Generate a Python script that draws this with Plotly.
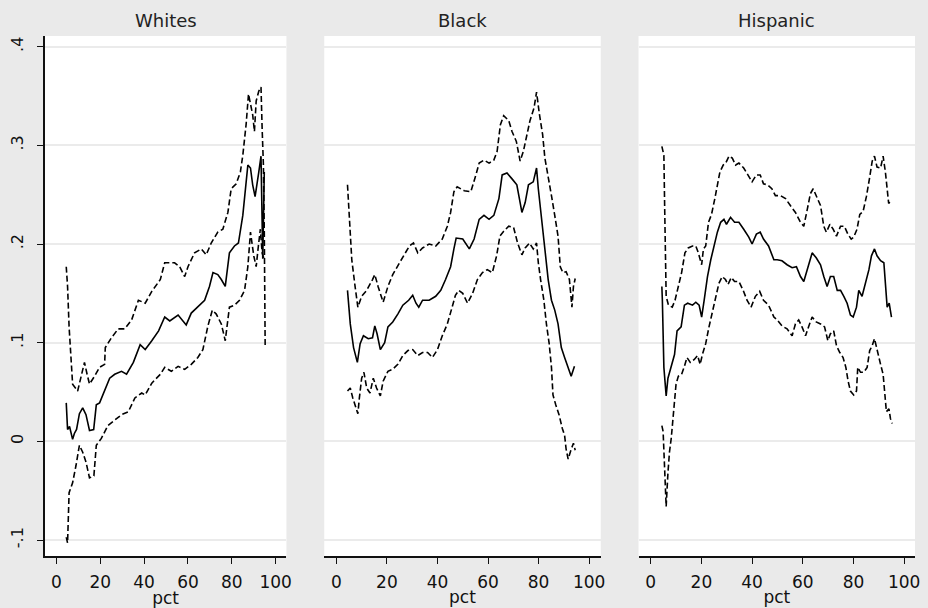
import plotly.graph_objects as go

# ---------------- data ----------------
xticks = [0, 20, 40, 60, 80, 100]
yticks = [-0.1, 0, 0.1, 0.2, 0.3, 0.4]
ytick_labels = ["-.1", "0", ".1", ".2", ".3", ".4"]
panel_titles = ["Whites", "Black", "Hispanic"]

# Whites
w_est_x = [4.5, 5.1, 6.0, 7.4, 8.2, 9.2, 10.5, 12.0, 13.5, 15.1, 17.0, 18.2, 19.7, 22.0, 24.3, 26.6, 29.7, 32.0, 35.1, 38.2, 40.5, 43.5, 46.6, 49.4, 51.7, 55.5, 59.2, 61.5, 64.5, 67.6, 69.8, 71.4, 73.6, 75.2, 77.0, 78.9, 81.2, 83.0, 85.0, 87.3, 88.5, 89.5, 90.6, 91.5, 92.3, 93.3, 94.1, 94.8]
w_est = [0.039, 0.012, 0.015, 0.002, 0.008, 0.012, 0.028, 0.034, 0.027, 0.011, 0.012, 0.037, 0.039, 0.051, 0.064, 0.068, 0.071, 0.068, 0.080, 0.098, 0.093, 0.102, 0.112, 0.126, 0.122, 0.128, 0.118, 0.130, 0.136, 0.143, 0.157, 0.171, 0.169, 0.164, 0.157, 0.191, 0.198, 0.201, 0.229, 0.280, 0.277, 0.260, 0.248, 0.260, 0.273, 0.289, 0.185, 0.273]
w_up_x = [4.5, 5.1, 5.8, 6.6, 7.4, 9.7, 11.2, 12.8, 14.0, 15.1, 17.4, 19.7, 22.0, 22.3, 25.1, 28.2, 31.2, 34.3, 37.4, 40.5, 43.5, 47.4, 49.4, 53.9, 56.2, 58.5, 60.0, 63.0, 66.1, 68.3, 70.6, 73.6, 75.9, 78.2, 79.7, 82.0, 83.9, 85.0, 86.5, 87.6, 88.5, 89.5, 90.3, 91.1, 92.3, 93.3, 93.8, 94.4, 94.8, 95.2]
w_up = [0.177, 0.157, 0.116, 0.082, 0.058, 0.051, 0.064, 0.080, 0.068, 0.058, 0.066, 0.075, 0.078, 0.095, 0.105, 0.114, 0.114, 0.123, 0.143, 0.140, 0.152, 0.164, 0.181, 0.181, 0.177, 0.167, 0.177, 0.191, 0.195, 0.189, 0.201, 0.212, 0.215, 0.232, 0.256, 0.261, 0.273, 0.290, 0.321, 0.352, 0.342, 0.331, 0.314, 0.345, 0.355, 0.359, 0.318, 0.280, 0.212, 0.095]
w_lo_x = [4.5, 5.1, 5.8, 7.4, 8.9, 10.5, 12.0, 13.5, 15.1, 17.1, 18.2, 20.5, 23.5, 26.6, 29.7, 32.8, 35.8, 38.9, 40.5, 43.5, 47.4, 49.4, 52.4, 55.5, 58.5, 61.5, 64.5, 66.8, 69.1, 71.1, 72.9, 75.2, 77.0, 78.9, 81.2, 83.5, 85.8, 87.3, 88.5, 90.0, 91.1, 92.1, 93.0, 93.8, 94.8]
w_lo = [-0.097, -0.103, -0.052, -0.042, -0.025, -0.004, -0.011, -0.021, -0.037, -0.035, -0.004, 0.003, 0.016, 0.022, 0.027, 0.030, 0.044, 0.049, 0.047, 0.059, 0.068, 0.075, 0.071, 0.076, 0.073, 0.078, 0.085, 0.093, 0.117, 0.133, 0.129, 0.119, 0.102, 0.136, 0.138, 0.143, 0.153, 0.177, 0.212, 0.188, 0.177, 0.198, 0.215, 0.191, 0.184]

# Black
b_est_x = [4.4, 5.5, 6.8, 8.3, 9.4, 10.7, 12.6, 14.3, 15.2, 16.1, 17.4, 19.1, 20.4, 22.3, 24.3, 26.3, 28.6, 30.2, 31.5, 32.6, 34.1, 36.7, 39.3, 41.3, 43.2, 45.2, 46.5, 47.4, 50.0, 52.6, 54.5, 56.5, 58.4, 60.4, 62.3, 64.3, 65.6, 67.5, 69.5, 71.4, 72.7, 73.4, 74.7, 76.0, 77.9, 79.2, 79.9, 81.2, 82.5, 83.8, 85.1, 86.4, 87.7, 89.0, 90.3, 91.6, 92.9, 94.2]
b_est = [0.153, 0.119, 0.095, 0.080, 0.099, 0.107, 0.104, 0.105, 0.117, 0.109, 0.093, 0.100, 0.116, 0.121, 0.129, 0.138, 0.143, 0.148, 0.140, 0.136, 0.143, 0.143, 0.147, 0.153, 0.164, 0.177, 0.195, 0.206, 0.205, 0.195, 0.205, 0.225, 0.229, 0.225, 0.229, 0.246, 0.270, 0.272, 0.266, 0.260, 0.242, 0.232, 0.242, 0.260, 0.263, 0.277, 0.256, 0.225, 0.191, 0.164, 0.143, 0.133, 0.119, 0.095, 0.085, 0.075, 0.066, 0.076]
b_up_x = [4.4, 4.8, 5.5, 6.1, 7.4, 8.5, 10.0, 12.0, 14.3, 15.2, 16.5, 18.5, 20.4, 22.3, 25.0, 27.0, 28.9, 30.5, 32.2, 34.1, 36.7, 39.3, 41.9, 43.9, 45.2, 46.5, 47.8, 50.6, 53.2, 55.2, 56.5, 58.4, 60.4, 62.3, 63.6, 64.9, 66.2, 68.2, 69.5, 71.2, 72.7, 74.0, 75.3, 76.6, 78.2, 79.2, 80.3, 81.6, 82.5, 83.8, 85.1, 86.4, 87.7, 88.6, 89.6, 90.9, 92.2, 93.2, 93.8, 94.5]
b_up = [0.260, 0.239, 0.212, 0.184, 0.157, 0.136, 0.147, 0.153, 0.164, 0.169, 0.157, 0.141, 0.157, 0.169, 0.181, 0.189, 0.198, 0.201, 0.191, 0.196, 0.200, 0.198, 0.205, 0.218, 0.232, 0.253, 0.258, 0.254, 0.253, 0.270, 0.282, 0.285, 0.282, 0.285, 0.294, 0.321, 0.330, 0.325, 0.314, 0.304, 0.284, 0.294, 0.311, 0.325, 0.338, 0.354, 0.332, 0.311, 0.287, 0.266, 0.249, 0.229, 0.208, 0.177, 0.171, 0.172, 0.164, 0.136, 0.157, 0.165]
b_lo_x = [4.4, 5.5, 6.5, 7.4, 8.5, 9.1, 10.0, 10.9, 12.0, 13.3, 14.6, 15.9, 17.4, 18.5, 20.4, 22.3, 24.3, 26.3, 28.3, 30.2, 32.2, 34.1, 36.1, 38.0, 40.0, 41.9, 43.9, 45.8, 47.1, 48.4, 50.0, 51.9, 53.9, 55.8, 57.8, 59.7, 61.7, 63.4, 64.7, 66.2, 68.2, 70.1, 71.7, 73.4, 74.7, 76.4, 77.9, 79.2, 79.9, 80.8, 82.1, 83.1, 84.2, 85.1, 85.7, 86.8, 88.1, 89.4, 90.3, 90.9, 91.7, 92.9, 93.8, 94.5]
b_lo = [0.051, 0.054, 0.044, 0.037, 0.028, 0.044, 0.064, 0.070, 0.054, 0.049, 0.064, 0.054, 0.046, 0.061, 0.071, 0.073, 0.078, 0.087, 0.092, 0.093, 0.087, 0.090, 0.090, 0.085, 0.093, 0.107, 0.119, 0.136, 0.148, 0.153, 0.150, 0.140, 0.150, 0.164, 0.171, 0.174, 0.171, 0.188, 0.208, 0.213, 0.218, 0.217, 0.201, 0.189, 0.196, 0.201, 0.195, 0.201, 0.181, 0.164, 0.143, 0.119, 0.099, 0.075, 0.047, 0.037, 0.027, 0.013, 0.006, -0.008, -0.018, -0.008, -0.002, -0.009]

# Hispanic
h_est_x = [4.4, 4.6, 5.2, 6.1, 6.8, 8.1, 9.4, 10.4, 12.0, 13.3, 14.6, 16.5, 17.8, 19.1, 20.1, 21.1, 22.4, 23.7, 25.0, 26.3, 27.6, 28.9, 29.9, 31.5, 33.1, 34.8, 36.7, 38.7, 40.0, 41.7, 43.2, 44.5, 46.5, 48.6, 49.9, 51.8, 53.8, 55.8, 57.5, 59.1, 60.4, 62.0, 63.7, 65.3, 67.0, 68.3, 69.6, 70.9, 72.2, 73.6, 74.9, 76.2, 77.5, 78.8, 79.9, 81.2, 82.1, 83.4, 84.7, 86.1, 87.1, 88.3, 89.3, 90.7, 92.0, 92.6, 93.3, 94.1, 95.0]
h_est = [0.157, 0.143, 0.075, 0.046, 0.064, 0.075, 0.088, 0.112, 0.116, 0.138, 0.140, 0.138, 0.141, 0.138, 0.126, 0.143, 0.167, 0.184, 0.198, 0.212, 0.222, 0.225, 0.220, 0.227, 0.222, 0.222, 0.215, 0.207, 0.200, 0.210, 0.212, 0.205, 0.198, 0.184, 0.184, 0.183, 0.179, 0.176, 0.177, 0.167, 0.162, 0.177, 0.191, 0.186, 0.179, 0.167, 0.157, 0.167, 0.167, 0.153, 0.153, 0.147, 0.140, 0.128, 0.126, 0.136, 0.153, 0.147, 0.160, 0.174, 0.188, 0.195, 0.188, 0.183, 0.181, 0.164, 0.136, 0.140, 0.126]
h_up_x = [4.4, 5.2, 5.5, 5.7, 6.1, 7.0, 8.5, 9.6, 10.9, 12.2, 13.5, 14.8, 16.5, 17.8, 18.8, 20.1, 20.8, 21.7, 22.8, 24.0, 25.3, 26.3, 27.3, 28.6, 29.6, 30.9, 32.2, 33.5, 34.8, 36.7, 38.7, 40.0, 41.7, 43.2, 44.5, 46.1, 47.8, 49.2, 51.2, 53.2, 55.1, 57.1, 59.1, 60.4, 61.7, 63.0, 64.1, 65.7, 67.0, 68.3, 69.3, 70.7, 72.0, 73.3, 74.9, 76.4, 77.8, 79.1, 80.1, 81.4, 82.5, 83.8, 85.1, 86.3, 87.4, 88.3, 89.3, 90.7, 91.7, 92.6, 93.3, 93.9, 94.6]
h_up = [0.299, 0.290, 0.239, 0.191, 0.147, 0.138, 0.136, 0.143, 0.157, 0.171, 0.191, 0.196, 0.198, 0.198, 0.191, 0.179, 0.195, 0.198, 0.222, 0.230, 0.246, 0.261, 0.273, 0.280, 0.282, 0.289, 0.287, 0.280, 0.282, 0.277, 0.268, 0.263, 0.270, 0.270, 0.261, 0.260, 0.256, 0.249, 0.249, 0.246, 0.239, 0.232, 0.222, 0.218, 0.234, 0.251, 0.256, 0.246, 0.239, 0.218, 0.212, 0.220, 0.215, 0.208, 0.218, 0.218, 0.210, 0.205, 0.207, 0.215, 0.230, 0.233, 0.248, 0.266, 0.284, 0.289, 0.278, 0.277, 0.289, 0.273, 0.256, 0.241, 0.244]
h_lo_x = [4.4, 4.9, 5.5, 5.7, 6.1, 6.8, 7.4, 8.1, 8.7, 9.4, 10.0, 10.9, 12.2, 13.3, 14.3, 15.6, 17.2, 18.5, 19.5, 20.4, 21.7, 23.0, 24.3, 25.6, 26.9, 28.2, 29.5, 30.5, 31.8, 33.1, 34.8, 36.5, 38.0, 39.6, 41.3, 43.0, 44.5, 46.5, 48.6, 49.9, 51.8, 53.8, 55.8, 57.1, 58.4, 59.7, 61.1, 62.4, 63.7, 65.3, 67.0, 68.6, 69.9, 70.9, 72.2, 73.3, 74.6, 75.9, 77.0, 77.9, 78.8, 80.1, 81.2, 81.7, 82.8, 84.1, 85.4, 86.4, 87.4, 88.3, 89.3, 90.7, 91.7, 92.4, 93.0, 94.0, 94.6, 95.3]
h_lo = [0.016, 0.010, -0.028, -0.049, -0.066, -0.032, -0.011, 0.003, 0.023, 0.040, 0.058, 0.066, 0.068, 0.076, 0.085, 0.080, 0.083, 0.087, 0.078, 0.088, 0.099, 0.116, 0.131, 0.147, 0.160, 0.167, 0.164, 0.159, 0.166, 0.162, 0.162, 0.153, 0.143, 0.136, 0.147, 0.152, 0.143, 0.138, 0.126, 0.123, 0.117, 0.114, 0.107, 0.119, 0.123, 0.116, 0.107, 0.117, 0.126, 0.121, 0.119, 0.116, 0.102, 0.109, 0.112, 0.097, 0.090, 0.085, 0.075, 0.061, 0.051, 0.047, 0.051, 0.075, 0.070, 0.070, 0.075, 0.092, 0.097, 0.104, 0.092, 0.078, 0.068, 0.047, 0.030, 0.033, 0.023, 0.018]

panels = [
    (w_est_x, w_est, w_up_x, w_up, w_lo_x, w_lo),
    (b_est_x, b_est, b_up_x, b_up, b_lo_x, b_lo),
    (h_est_x, h_est, h_up_x, h_up, h_lo_x, h_lo),
]

# ---------------- figure ----------------
W, H = 928, 608
FONT = "DejaVu Sans"
LW = 1.6
DASH = "6px,3px"

fig = go.Figure()
for i, (ex, ey, ux, uy, lx, ly) in enumerate(panels):
    ax = "" if i == 0 else str(i + 1)
    for xs, ys, dash in ((ux, uy, DASH), (lx, ly, DASH), (ex, ey, "solid")):
        fig.add_trace(go.Scatter(
            x=xs, y=ys, mode="lines", xaxis="x" + ax, yaxis="y" + ax,
            line=dict(color="black", width=LW, dash=dash),
            showlegend=False, hoverinfo="skip"))

# plot areas in pixels
x_dom_px = [(45, 288), (326, 604), (642, 920)]
x_ranges = [[-5.3, 104.9], [-4.8, 104.6], [-4.8, 104.3]]
y_dom = [1 - 556 / H, 1 - 36 / H]
y_range = [-0.1162, 0.4108]

grid_col = "#EBEBEB"
for i in range(3):
    ax = "" if i == 0 else str(i + 1)
    xa = dict(
        domain=[x_dom_px[i][0] / W, x_dom_px[i][1] / W],
        range=x_ranges[i], anchor="y" + ax,
        tickmode="array", tickvals=xticks, ticktext=[str(t) for t in xticks],
        ticks="outside", ticklen=6, tickwidth=1.4, tickcolor="#111",
        showline=True, linecolor="#111", linewidth=1.5,
        showgrid=False, zeroline=False,
        tickfont=dict(family=FONT, size=17, color="#111"),
        ticklabelstandoff=4,
        title=dict(text="pct", font=dict(family=FONT, size=17, color="#111"), standoff=0),
        fixedrange=True,
    )
    ya = dict(
        domain=y_dom, range=y_range, anchor="x" + ax,
        tickmode="array", tickvals=yticks, ticktext=ytick_labels,
        showgrid=True, gridcolor=grid_col, gridwidth=1.5, zeroline=False,
        fixedrange=True,
    )
    if i == 0:
        ya.update(showline=True, linecolor="#111", linewidth=1.5,
                  ticks="outside", ticklen=6, tickwidth=1.4, tickcolor="#111",
                  tickangle=-90, showticklabels=True,
                  tickfont=dict(family=FONT, size=16, color="#111"),
                  ticklabelstandoff=8)
    else:
        ya.update(showline=False, ticks="", showticklabels=False)
    fig.layout["xaxis" + ax] = xa
    fig.layout["yaxis" + ax] = ya

annotations = []
for i, t in enumerate(panel_titles):
    cx = (x_dom_px[i][0] + x_dom_px[i][1]) / 2 / W
    annotations.append(dict(text=t, x=cx, y=1 - 20 / H, xref="paper", yref="paper",
                            xanchor="center", yanchor="middle", showarrow=False,
                            font=dict(family=FONT, size=18, color="#222")))

fig.update_layout(
    width=W, height=H,
    margin=dict(l=0, r=0, t=0, b=0),
    paper_bgcolor="#EAEAEA", plot_bgcolor="white",
    annotations=annotations,
    font=dict(family=FONT, color="#111"),
)

fig.write_html("out.html", include_plotlyjs=True,
               config={"displayModeBar": False},
               post_script="document.body.style.margin='0';document.body.style.overflow='hidden';")
